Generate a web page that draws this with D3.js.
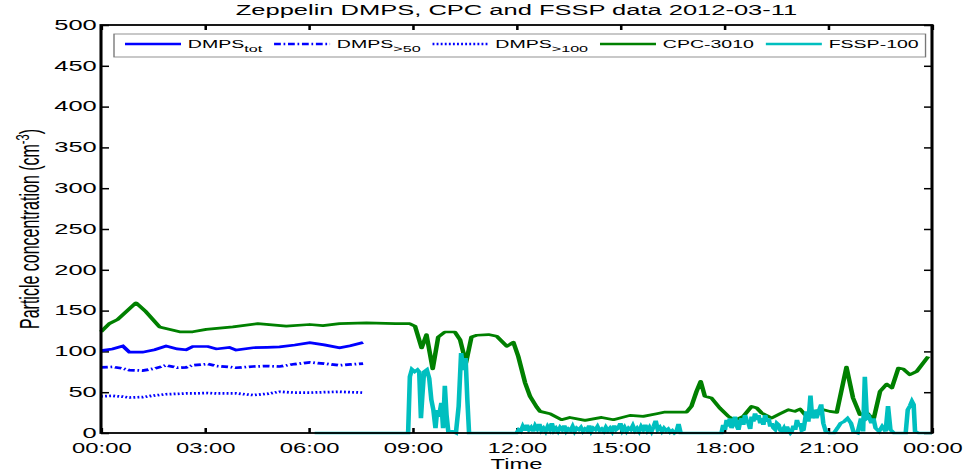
<!DOCTYPE html>
<html>
<head>
<meta charset="utf-8">
<script src="https://cdn.jsdelivr.net/npm/d3@7"></script>
<style>
  body { margin: 0; background: #fff; }
  svg { display: block; }
  text { font-family: "Liberation Sans", Arial, sans-serif; }
</style>
</head>
<body>
<div id="chart"></div>
<script>
// Values, time in hours after 00:00
const dmpsTime = [0, 0.33, 0.63, 0.82, 1.2, 1.55, 1.88, 2.2, 2.46, 2.65, 3.09, 3.33, 3.71, 3.9, 4.39, 4.8, 5.16, 5.6, 6.03, 6.45, 6.89, 7.2, 7.57];
const dmpsTot = [101, 103, 106.5, 99, 99, 102, 106.5, 103, 102, 106, 106, 103, 105, 101.6, 104.5, 105, 105.5, 107.8, 110.6, 108, 104.5, 107, 111];
const dmps50 = [80.5, 81, 79, 77, 76.5, 79, 83, 80, 80.5, 83, 84.5, 82, 81, 80, 81.5, 82, 81.5, 84.5, 86.5, 85, 83, 84, 85];
const dmps100 = [45, 45.5, 44.5, 43.5, 44, 46, 47.5, 48, 48.5, 48.5, 49, 48.5, 48.5, 48.5, 46.5, 48, 50.5, 49.5, 49.5, 50, 50.5, 50, 49.5];

const cpc = [
  [0, 124], [0.24, 134], [0.48, 139], [1.01, 159.5], [1.3, 148.5], [1.69, 130], [2.27, 124], [2.65, 124],
  [3.04, 127], [3.81, 130], [4.53, 134], [5.35, 131], [6.03, 133], [6.41, 131.5], [6.89, 134], [7.67, 135],
  [8.5, 134], [8.92, 134], [9.07, 130.7], [9.26, 104.2], [9.4, 120.5], [9.58, 78.5], [9.74, 117.7],
  [9.93, 123.8], [10.22, 123.8], [10.37, 114.4], [10.54, 85.8], [10.7, 117.7], [10.85, 119.8],
  [11.19, 120.6], [11.43, 118.5], [11.72, 106.3], [11.91, 111.2], [12.05, 94], [12.25, 61.3],
  [12.39, 45], [12.58, 32], [12.68, 26.5], [12.97, 23.6], [13.3, 16.3], [13.54, 19.1], [13.98, 15.5],
  [14.46, 19.1], [14.8, 16.3], [15.28, 21.6], [15.66, 20.4], [16.05, 23.6], [16.29, 25.7], [16.91, 25.7],
  [17.05, 32.6], [17.2, 51], [17.32, 63.3], [17.44, 44.9], [17.63, 42.9], [17.87, 30.6], [18.12, 20.4],
  [18.31, 15.5], [18.55, 20.4], [18.79, 32.6], [18.94, 30.6], [19.08, 24.5], [19.37, 18.4], [19.61, 23.6],
  [19.85, 28.6], [20.04, 26.5], [20.19, 29.4], [20.33, 22.4], [20.62, 26.5], [20.86, 28.6], [21.05, 26.5],
  [21.25, 25.3], [21.53, 80.8], [21.72, 42.9], [21.92, 22.4], [22.11, 25.3], [22.31, 16.3], [22.5, 51],
  [22.69, 60], [22.84, 55.1], [23.03, 79.6], [23.17, 78.4], [23.36, 71.4], [23.56, 75.5], [23.89, 93.8]
];

const fssp = [
  [6.17, 0], [8.87, 0], [8.92, 69], [8.98, 78], [9.06, 75], [9.14, 77.5], [9.19, 75], [9.24, 18], [9.28, 45],
  [9.33, 75], [9.41, 77.5], [9.48, 67], [9.54, 41], [9.6, 28], [9.66, 6], [9.71, 28], [9.76, 20], [9.83, 37],
  [9.88, 6], [9.93, 58], [9.98, 22], [10.03, 2], [10.15, 2], [10.25, 0], [10.33, 33], [10.4, 98], [10.47, 77],
  [10.53, 92], [10.58, 41], [10.63, 0], [12.0, 0],
  [12.06, 4], [12.12, 2], [12.18, 8], [12.24, 3], [12.3, 10], [12.36, 4], [12.42, 7], [12.48, 2], [12.54, 9],
  [12.6, 5], [12.66, 11], [12.72, 3], [12.78, 6], [12.84, 2], [12.9, 8], [12.96, 4], [13.02, 12], [13.08, 3],
  [13.14, 6], [13.2, 2], [13.26, 7], [13.32, 4], [13.38, 9], [13.44, 2], [13.5, 5], [13.56, 3], [13.62, 8],
  [13.68, 2], [13.74, 6], [13.8, 4], [13.86, 7], [13.92, 2], [13.98, 5], [14.04, 3], [14.1, 9], [14.16, 2],
  [14.22, 6], [14.28, 4], [14.34, 8], [14.4, 3], [14.46, 5], [14.52, 2], [14.58, 7], [14.64, 3], [14.7, 6],
  [14.76, 2], [14.82, 9], [14.88, 4], [14.94, 6], [15.0, 12], [15.06, 3], [15.12, 7], [15.18, 2], [15.24, 6],
  [15.3, 4], [15.36, 9], [15.42, 3], [15.48, 6], [15.54, 2], [15.6, 8], [15.66, 4], [15.72, 10], [15.78, 3],
  [15.84, 7], [15.9, 2], [15.96, 8], [16.02, 15], [16.08, 4], [16.14, 7], [16.2, 2], [16.26, 6], [16.32, 3],
  [16.38, 5], [16.44, 1], [16.5, 3], [16.56, 0], [16.62, 2], [16.68, 11], [16.74, 0], [17.92, 0],
  [17.97, 10], [18.02, 4], [18.07, 16], [18.12, 8], [18.16, 18], [18.21, 6], [18.26, 12], [18.31, 20],
  [18.36, 9], [18.41, 4], [18.46, 14], [18.5, 18], [18.55, 10], [18.6, 22], [18.65, 15], [18.7, 12],
  [18.75, 5], [18.79, 20], [18.84, 14], [18.89, 24], [18.94, 16], [18.99, 22], [19.04, 12], [19.08, 18],
  [19.13, 10], [19.18, 22], [19.23, 14], [19.28, 18], [19.33, 8], [19.37, 12], [19.42, 6], [19.47, 4],
  [19.52, 12], [19.57, 10], [19.62, 3], [19.66, 2], [19.72, 6], [19.77, 0], [19.81, 8], [19.86, 3],
  [19.91, 0], [19.95, 2], [20.0, 9], [20.05, 4], [20.1, 16], [20.15, 8], [20.19, 12], [20.24, 3],
  [20.29, 4], [20.33, 15], [20.37, 26.5], [20.43, 14], [20.49, 46], [20.54, 18], [20.58, 22], [20.61, 28.5],
  [20.66, 18], [20.73, 26.5], [20.8, 35], [20.86, 12], [20.93, 2], [21.03, 0], [21.17, 0], [21.27, 6],
  [21.36, 12], [21.46, 14], [21.56, 18], [21.66, 12], [21.73, 2], [21.85, 0], [21.95, 18], [22.01, 2],
  [22.06, 69], [22.12, 18], [22.18, 20], [22.25, 12], [22.31, 18], [22.37, 6], [22.47, 2], [22.56, 8],
  [22.66, 2], [22.73, 33], [22.8, 4], [22.9, 0], [23.24, 0], [23.3, 28.5], [23.36, 33], [23.42, 39],
  [23.47, 35], [23.51, 2], [23.61, 0], [24, 0]
];

const xTicks = [0, 3, 6, 9, 12, 15, 18, 21, 24];
const yTicks = [0, 50, 100, 150, 200, 250, 300, 350, 400, 450, 500];

// the original figure is stretched sideways, so draw narrow and stretch the svg
const sx = 1.7;
const fullW = 978, fullH = 472;
const W = fullW / sx;
const margin = { top: 25, right: (fullW - 932) / sx, bottom: fullH - 433, left: 101 / sx };
const width = W - margin.left - margin.right;
const height = fullH - margin.top - margin.bottom;

const svg = d3.select("#chart")
  .append("svg")
  .attr("width", fullW)
  .attr("height", fullH)
  .attr("viewBox", `0 0 ${W} ${fullH}`)
  .attr("preserveAspectRatio", "none");

const g = svg.append("g")
  .attr("transform", `translate(${margin.left},${margin.top})`);

const x = d3.scaleLinear().domain([0, 24]).range([0, width]);
const y = d3.scaleLinear().domain([0, 500]).range([height, 0]);

const fmtTime = d => d3.format("02d")(d % 24) + ":00";

// axes, ticks pointing inwards
const xAxis = g.append("g")
  .attr("transform", `translate(0,${height})`)
  .call(d3.axisBottom(x).tickValues(xTicks).tickSize(-5).tickPadding(10.3).tickFormat(fmtTime));
const xTop = g.append("g")
  .call(d3.axisTop(x).tickValues(xTicks).tickSize(-5).tickFormat(""));
const yAxis = g.append("g")
  .call(d3.axisLeft(y).tickValues(yTicks).tickSize(-4.7).tickPadding(2.5));
const yRight = g.append("g")
  .attr("transform", `translate(${width},0)`)
  .call(d3.axisRight(y).tickValues(yTicks).tickSize(-4.7).tickFormat(""));

[xAxis, xTop, yAxis, yRight].forEach(a => {
  a.select(".domain").remove();
  a.selectAll(".tick line").attr("stroke", "#000").attr("stroke-width", 1.5);
  a.selectAll(".tick text").attr("fill", "#000").style("font-size", "15px");
});
// the space under the axis is tight, so the time labels are a touch smaller
xAxis.selectAll(".tick text").style("font-size", "14px");
yAxis.selectAll(".tick text").attr("dy", "0.28em");

// data lines
const line = d3.line().x(d => x(d[0])).y(d => y(d[1]));
const dmpsSeries = [
  { vals: dmpsTot, dash: null },
  { vals: dmps50, dash: "4,1.6,1,1.6" },
  { vals: dmps100, dash: "1.1,1.3" }
];
dmpsSeries.forEach(s => {
  g.append("path")
    .datum(dmpsTime.map((t, i) => [t, s.vals[i]]))
    .attr("d", line)
    .attr("fill", "none")
    .attr("stroke", "#0000ff")
    .attr("stroke-width", 2.7)
    .attr("stroke-dasharray", s.dash);
});

g.append("path")
  .datum(cpc)
  .attr("d", line)
  .attr("fill", "none")
  .attr("stroke", "#008000")
  .attr("stroke-width", 2.7)
  .attr("stroke-linejoin", "round");

g.append("path")
  .datum(fssp)
  .attr("d", line)
  .attr("fill", "none")
  .attr("stroke", "#00bfbf")
  .attr("stroke-width", 2.7);

// box
g.append("rect")
  .attr("width", width)
  .attr("height", height)
  .attr("fill", "none")
  .attr("stroke", "#000")
  .attr("stroke-width", 1.8);

// title and axis labels
svg.append("text")
  .attr("x", margin.left + width / 2)
  .attr("y", 15)
  .attr("text-anchor", "middle")
  .style("font-size", "15px")
  .text("Zeppelin DMPS, CPC and FSSP data 2012-03-11");

svg.append("text")
  .attr("x", margin.left + width / 2)
  .attr("y", 469)
  .attr("text-anchor", "middle")
  .style("font-size", "14px")
  .text("Time");

const yLab = svg.append("text")
  .attr("transform", `translate(${39 / sx},${margin.top + height / 2}) rotate(-90)`)
  .attr("text-anchor", "middle")
  .style("font-size", "16px");
yLab.append("tspan").text("Particle concentration (cm");
yLab.append("tspan").attr("dy", -6).style("font-size", "11px").text("-3");
yLab.append("tspan").attr("dy", 6).text(")");

// legend
const legendItems = [
  { name: "DMPS", sub: "tot", color: "#0000ff", dash: null },
  { name: "DMPS", sub: ">50", color: "#0000ff", dash: "4,1.6,1,1.6" },
  { name: "DMPS", sub: ">100", color: "#0000ff", dash: "1.1,1.3" },
  { name: "CPC-3010", sub: null, color: "#008000", dash: null },
  { name: "FSSP-100", sub: null, color: "#00bfbf", dash: null }
];
const legend = svg.append("g");
const box = legend.append("rect")
  .attr("x", 114 / sx)
  .attr("y", 34)
  .attr("height", 23)
  .attr("fill", "#fff")
  .attr("stroke", "#777")
  .attr("stroke-width", 0.8);

let lx = 125 / sx;
const lineLen = 56 / sx;
legendItems.forEach(it => {
  legend.append("line")
    .attr("x1", lx).attr("x2", lx + lineLen)
    .attr("y1", 44).attr("y2", 44)
    .attr("stroke", it.color)
    .attr("stroke-width", 2.5)
    .attr("stroke-dasharray", it.dash);
  const t = legend.append("text")
    .attr("x", lx + lineLen + 4)
    .attr("y", 48)
    .style("font-size", "11.5px");
  t.append("tspan").text(it.name);
  if (it.sub) {
    t.append("tspan").attr("dy", 4.5).style("font-size", "9.5px").text(it.sub);
  }
  lx += lineLen + 4 + t.node().getComputedTextLength() + 7;
});
box.attr("width", lx - 7 + 4 - 114 / sx);
</script>
</body>
</html>
